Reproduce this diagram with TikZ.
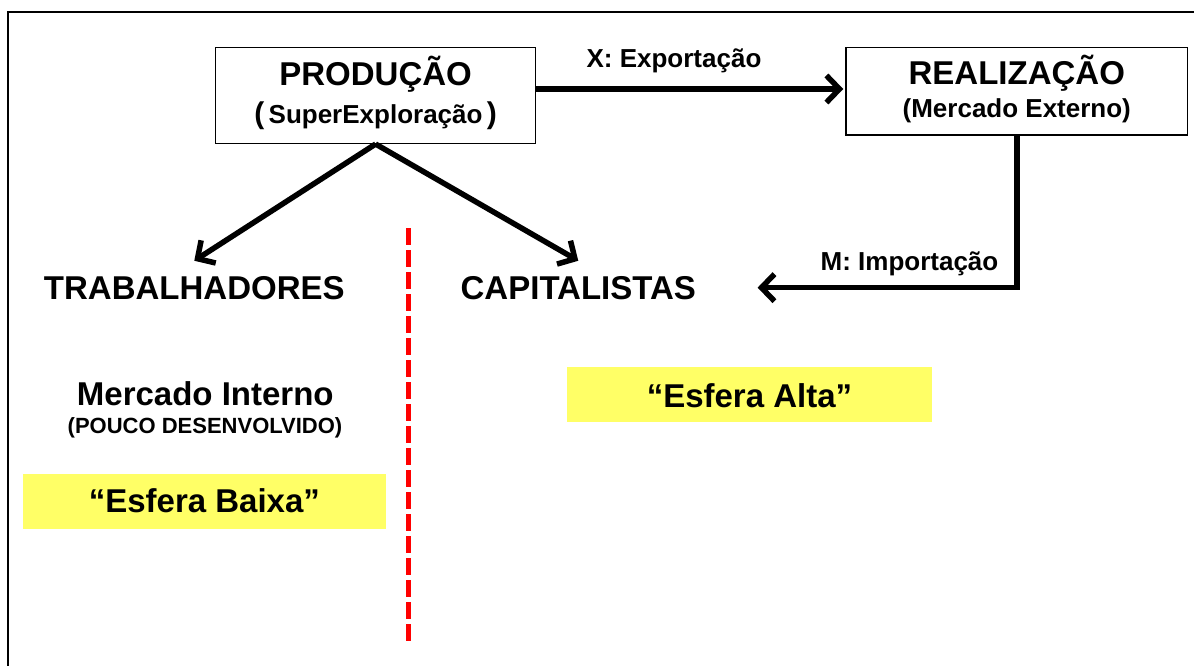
\documentclass[tikz,border=0pt]{standalone}
\usepackage{fontspec}
\setmainfont{Liberation Sans}
\usetikzlibrary{calc,positioning,arrows.meta}
\definecolor{hilite}{HTML}{FFFF66}

\begin{document}
\begin{tikzpicture}[x=1pt, y=-1pt, every node/.style={font=\bfseries, inner sep=2pt},
    big/.style={font=\bfseries\fontsize{33}{38}\selectfont, anchor=base},
    mid/.style={font=\bfseries\fontsize{26}{30}\selectfont, anchor=base},
    small/.style={font=\bfseries\fontsize{22}{26}\selectfont, anchor=base},
    box/.style={draw, line width=1.5pt, inner sep=0pt, align=center, anchor=base},
    band/.style={fill=hilite, inner sep=0pt, anchor=base, font=\bfseries\fontsize{33}{38}\selectfont},
    flow/.style={line width=5.5pt, -{Straight Barb[length=13pt,width=27pt]}}]
            \useasboundingbox (0,0) rectangle (1194,666);

            % frame
            \draw[line width=2pt] (7.6,666) -- (7.6,12.3) -- (1194,12.3);

            % boxes (production and realization), anchored on the last line
            \node[box, font=\bfseries\fontsize{26}{38}\selectfont, minimum width=320pt, text height=76.3pt, text depth=19.3pt] (prod) at (375.6,124)
                {{\fontsize{33}{38}\selectfont PRODUÇÃO}\\{\fontsize{30}{38}\selectfont(}\,SuperExploração\,{\fontsize{30}{38}\selectfont)}};
            \node[box, font=\bfseries\fontsize{26}{33}\selectfont, minimum width=341.6pt, text height=70.3pt, text depth=17pt] (real) at (1016.8,118)
                {{\fontsize{33}{33}\selectfont REALIZAÇÃO}\\(Mercado Externo)};

            % classes
            \node[big] (trab) at (194.3,299) {TRABALHADORES};
            \node[big] (cap) at (578.3,299) {CAPITALISTAS};

            % left side
            \node[big] (merc) at (205.3,405) {Mercado Interno};
            \node[small] (pouco) at (205,433) {(POUCO DESENVOLVIDO)};
            \node[band, minimum width=362.8pt, text height=38.7pt, text depth=16.3pt] (baixa) at (204.4,512.7) {“Esfera Baixa”};

            % right side
            \node[band, minimum width=365pt, text height=40pt, text depth=14.7pt] (alta) at (749.5,407) {“Esfera Alta”};

            % connections with labels
            \coordinate (xlev) at (700,89);
            \draw[flow, shorten >=2pt] (prod.east |- xlev) -- (real.west |- xlev);
            \node[mid] (exp) at (674,68) {X: Exportação};
            \draw[flow, shorten >=59.5pt] (real.south) |- (cap.east);
            \node[mid] (imp) at (909.5,270) {M: Importação};
            \draw[flow] (prod.south) -- ([yshift=13pt]trab.north);
            \draw[flow] (prod.south) -- ([yshift=13pt]cap.north);

            % dividing line
            \coordinate (divtop) at (408.7,228);
            \coordinate (divbot) at (408.7,643);
            \draw[red, line width=5.4pt, dash pattern=on 17pt off 5pt] (divtop) -- (divbot);
        \end{tikzpicture}
\end{document}
